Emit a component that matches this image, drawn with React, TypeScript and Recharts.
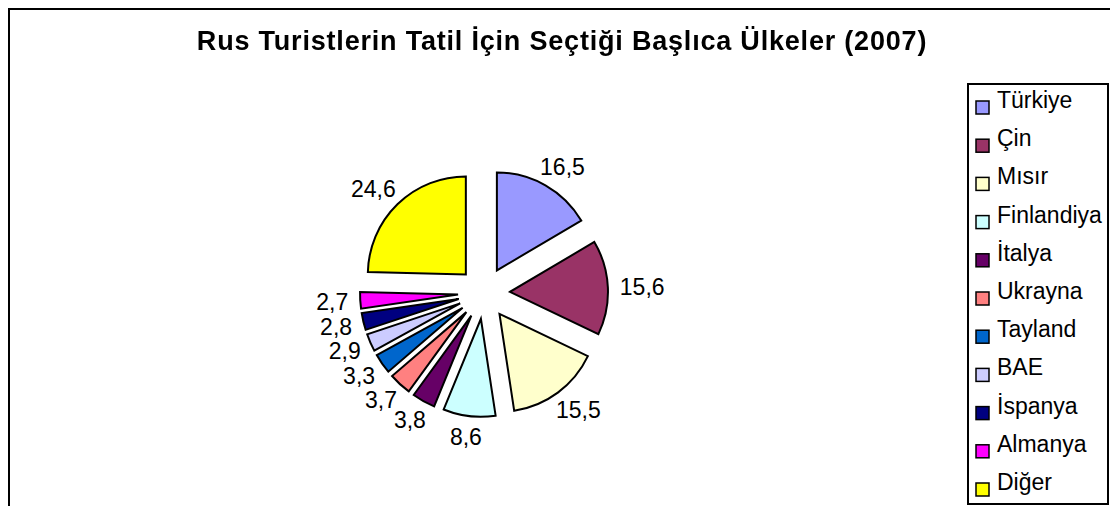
import { Legend, Pie, PieChart, Sector, Cell } from "recharts";

const countries = [
  "Türkiye",
  "Çin",
  "Mısır",
  "Finlandiya",
  "İtalya",
  "Ukrayna",
  "Tayland",
  "BAE",
  "İspanya",
  "Almanya",
  "Diğer",
];
const shares = [16.5, 15.6, 15.5, 8.6, 3.8, 3.7, 3.3, 2.9, 2.8, 2.7, 24.6];
const colors = [
  "#9999FF",
  "#993366",
  "#FFFFCC",
  "#CCFFFF",
  "#660066",
  "#FF8080",
  "#0066CC",
  "#CCCCFF",
  "#000080",
  "#FF00FF",
  "#FFFF00",
];

const data = countries.map((name, i) => ({ name, value: shares[i] }));

const RAD = Math.PI / 180;
const EXPLODE = 26;
const FONT = "'Liberation Sans', Arial, sans-serif";
const LABEL_SIZE = 23;

const fmt = (v: number) => v.toFixed(1).replace(".", ",");

// every slice is pulled out along its mid angle, like Excel's exploded pie
function ExplodedSlice(props: any) {
  const a = -props.midAngle * RAD;
  return (
    <Sector
      {...props}
      cx={props.cx + EXPLODE * Math.cos(a)}
      cy={props.cy + EXPLODE * Math.sin(a)}
    />
  );
}

function SliceLabel(props: any) {
  const { cx, cy, midAngle, outerRadius, value } = props;
  const ux = Math.cos(-midAngle * RAD);
  const uy = Math.sin(-midAngle * RAD);
  const text = fmt(value);
  const w = (text.length - 1) * 0.556 * LABEL_SIZE + 0.278 * LABEL_SIZE;
  const r = outerRadius + EXPLODE + 12;
  const x = cx + ux * r + (ux * w) / 2;
  const y = cy + uy * r + uy * 9;
  return (
    <text
      x={x}
      y={y + 0.358 * LABEL_SIZE}
      textAnchor="middle"
      fontFamily={FONT}
      fontSize={LABEL_SIZE}
      fill="#000"
    >
      {text}
    </text>
  );
}

function LegendBox() {
  return (
    <svg width={138} height={418} style={{ display: "block" }}>
      {countries.map((name, i) => (
        <g key={name}>
          <rect
            x={7}
            y={16 + 38.2 * i}
            width={13}
            height={13}
            fill={colors[i]}
            stroke="#000"
            strokeWidth={1.5}
          />
          <text
            x={28}
            y={23 + 38.2 * i}
            fontFamily={FONT}
            fontSize={23}
            fill="#000"
          >
            {name}
          </text>
        </g>
      ))}
    </svg>
  );
}

export default function App() {
  return (
    <>
      <div
        style={{
          position: "fixed",
          left: 8,
          top: 8,
          width: 1102,
          height: 498,
          borderLeft: "2px solid #000",
          borderTop: "2px solid #000",
          boxSizing: "border-box",
          background: "#fff",
        }}
      />
      <div style={{ position: "fixed", left: 0, top: 0, width: 1110, height: 506 }}>
        <PieChart
          width={1110}
          height={506}
          margin={{ top: 0, right: 0, bottom: 0, left: 0 }}
        >
          <Pie
            data={data}
            dataKey="value"
            nameKey="name"
            cx={484}
            cy={293}
            outerRadius={98}
            startAngle={90}
            endAngle={-270}
            stroke="#000"
            strokeWidth={2}
            shape={ExplodedSlice}
            label={SliceLabel}
            labelLine={false}
            isAnimationActive={false}
          >
            {data.map((d, i) => (
              <Cell key={d.name} fill={colors[i]} />
            ))}
          </Pie>
          <Legend
            layout="vertical"
            align="right"
            verticalAlign="top"
            content={LegendBox}
            wrapperStyle={{
              left: 967,
              top: 83,
              width: 142,
              height: 422,
              border: "2px solid #000",
              boxSizing: "border-box",
              background: "#fff",
            }}
          />
        </PieChart>
      </div>
      <div
        style={{
          position: "fixed",
          left: 0,
          top: 28,
          width: 1124,
          textAlign: "center",
          fontFamily: FONT,
          fontWeight: "bold",
          fontSize: 27,
          lineHeight: "27px",
          letterSpacing: 0.8,
          color: "#000",
        }}
      >
        Rus Turistlerin Tatil İçin Seçtiği Başlıca Ülkeler (2007)
      </div>
    </>
  );
}
